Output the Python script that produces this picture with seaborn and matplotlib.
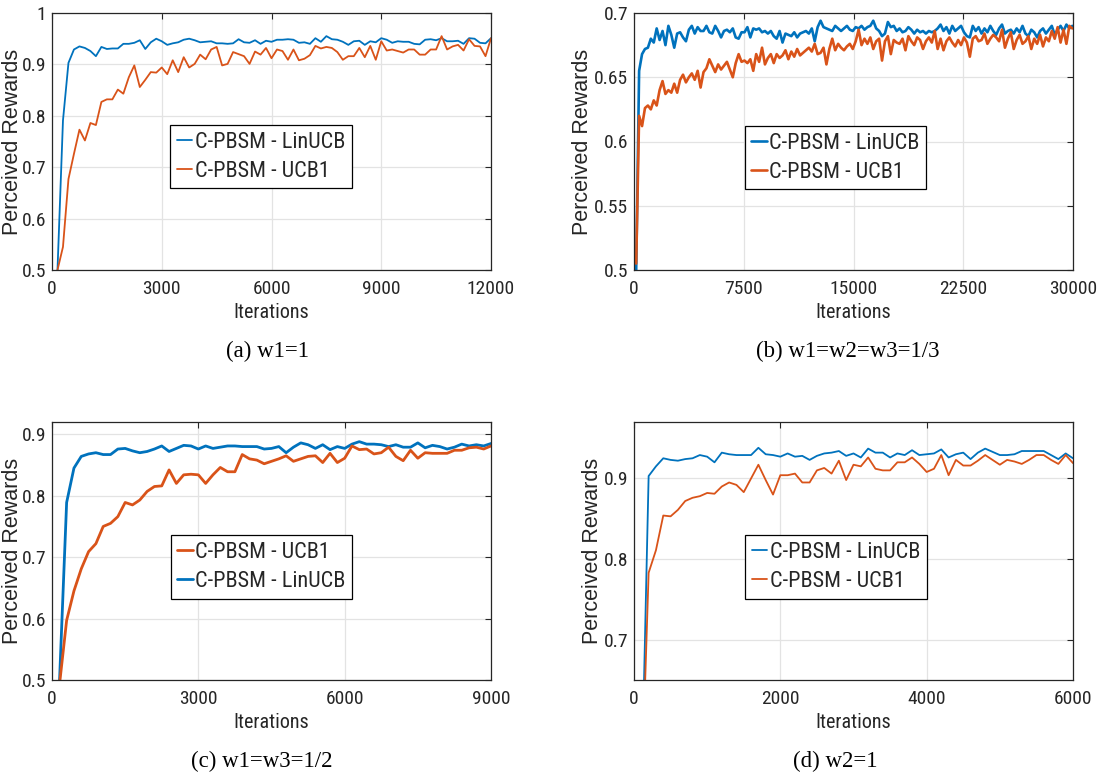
import numpy as np
import pandas as pd
import matplotlib
matplotlib.use("Agg")
import matplotlib.pyplot as plt
from matplotlib import font_manager
import seaborn as sns

# ---- data ----
a_x = np.arange(150, 12001, 150)
a_lin = [0.500, 0.791, 0.903, 0.929, 0.935, 0.932, 0.926, 0.916, 0.934, 0.930,
         0.931, 0.931, 0.940, 0.940, 0.942, 0.947, 0.930, 0.943, 0.950, 0.945,
         0.938, 0.941, 0.943, 0.948, 0.950, 0.947, 0.943, 0.944, 0.945, 0.941,
         0.941, 0.940, 0.941, 0.949, 0.943, 0.942, 0.947, 0.940, 0.946, 0.944,
         0.948, 0.948, 0.949, 0.948, 0.942, 0.943, 0.940, 0.951, 0.944, 0.955,
         0.949, 0.948, 0.944, 0.938, 0.945, 0.946, 0.938, 0.945, 0.943, 0.951,
         0.948, 0.942, 0.945, 0.944, 0.944, 0.940, 0.939, 0.948, 0.949, 0.947,
         0.951, 0.945, 0.945, 0.946, 0.940, 0.951, 0.950, 0.942, 0.941, 0.951]
a_ucb = [0.500, 0.545, 0.677, 0.726, 0.773, 0.752, 0.786, 0.782, 0.827, 0.832,
         0.832, 0.851, 0.843, 0.875, 0.898, 0.856, 0.870, 0.885, 0.884, 0.894,
         0.881, 0.908, 0.885, 0.914, 0.894, 0.901, 0.919, 0.910, 0.929, 0.934,
         0.898, 0.901, 0.924, 0.920, 0.916, 0.901, 0.925, 0.919, 0.932, 0.912,
         0.929, 0.926, 0.909, 0.929, 0.908, 0.911, 0.918, 0.936, 0.931, 0.934,
         0.932, 0.924, 0.909, 0.916, 0.916, 0.932, 0.914, 0.936, 0.909, 0.945,
         0.927, 0.929, 0.926, 0.923, 0.929, 0.929, 0.919, 0.919, 0.929, 0.929,
         0.955, 0.929, 0.935, 0.938, 0.927, 0.949, 0.936, 0.935, 0.916, 0.951]

b_x = np.arange(150, 30000, 200)
b_lin = [0.500, 0.655, 0.668, 0.672, 0.673, 0.680, 0.677, 0.688, 0.679, 0.686,
         0.675, 0.690, 0.683, 0.673, 0.684, 0.685, 0.681, 0.678, 0.687, 0.690,
         0.684, 0.689, 0.686, 0.686, 0.690, 0.685, 0.684, 0.690, 0.686, 0.681,
         0.686, 0.687, 0.685, 0.688, 0.681, 0.680, 0.685, 0.685, 0.689, 0.681,
         0.688, 0.687, 0.688, 0.685, 0.686, 0.684, 0.686, 0.682, 0.680, 0.686,
         0.677, 0.684, 0.683, 0.682, 0.685, 0.681, 0.684, 0.685, 0.686, 0.684,
         0.688, 0.678, 0.689, 0.694, 0.689, 0.688, 0.687, 0.686, 0.690, 0.688,
         0.686, 0.688, 0.690, 0.687, 0.686, 0.689, 0.688, 0.690, 0.687, 0.689,
         0.690, 0.694, 0.688, 0.686, 0.682, 0.684, 0.693, 0.689, 0.690, 0.686,
         0.688, 0.685, 0.686, 0.689, 0.687, 0.684, 0.687, 0.685, 0.686, 0.684,
         0.686, 0.685, 0.686, 0.688, 0.691, 0.686, 0.689, 0.684, 0.690, 0.686,
         0.688, 0.690, 0.685, 0.682, 0.681, 0.690, 0.686, 0.689, 0.684, 0.688,
         0.685, 0.690, 0.686, 0.683, 0.688, 0.691, 0.684, 0.686, 0.687, 0.684,
         0.688, 0.685, 0.690, 0.684, 0.682, 0.687, 0.685, 0.681, 0.686, 0.688,
         0.684, 0.687, 0.690, 0.683, 0.687, 0.690, 0.686, 0.691, 0.688, 0.690]
b_ucb = [0.505, 0.620, 0.612, 0.626, 0.628, 0.625, 0.632, 0.628, 0.640, 0.647,
         0.637, 0.640, 0.638, 0.645, 0.638, 0.648, 0.652, 0.646, 0.650, 0.653,
         0.648, 0.655, 0.642, 0.654, 0.657, 0.664, 0.659, 0.654, 0.660, 0.656,
         0.659, 0.662, 0.656, 0.650, 0.661, 0.668, 0.662, 0.663, 0.661, 0.664,
         0.655, 0.668, 0.662, 0.673, 0.660, 0.665, 0.668, 0.661, 0.668, 0.665,
         0.667, 0.671, 0.664, 0.670, 0.666, 0.672, 0.667, 0.669, 0.671, 0.673,
         0.670, 0.676, 0.668, 0.669, 0.673, 0.660, 0.672, 0.680, 0.671, 0.676,
         0.673, 0.671, 0.674, 0.676, 0.672, 0.678, 0.687, 0.675, 0.680, 0.676,
         0.681, 0.672, 0.678, 0.680, 0.663, 0.678, 0.682, 0.668, 0.679, 0.677,
         0.676, 0.680, 0.671, 0.682, 0.678, 0.675, 0.681, 0.679, 0.672, 0.678,
         0.681, 0.677, 0.686, 0.672, 0.680, 0.671, 0.678, 0.681, 0.677, 0.674,
         0.679, 0.675, 0.681, 0.677, 0.666, 0.680, 0.682, 0.678, 0.679, 0.684,
         0.676, 0.680, 0.683, 0.681, 0.678, 0.687, 0.673, 0.680, 0.685, 0.672,
         0.679, 0.683, 0.676, 0.678, 0.682, 0.672, 0.680, 0.676, 0.683, 0.674,
         0.681, 0.678, 0.686, 0.680, 0.689, 0.677, 0.687, 0.676, 0.690, 0.688]

c_x = np.arange(150, 9001, 150)
c_lin = [0.490, 0.789, 0.845, 0.864, 0.868, 0.870, 0.867, 0.867, 0.876, 0.877,
         0.873, 0.870, 0.872, 0.876, 0.881, 0.872, 0.877, 0.882, 0.881, 0.876,
         0.881, 0.877, 0.879, 0.881, 0.881, 0.880, 0.880, 0.880, 0.876, 0.877,
         0.880, 0.870, 0.879, 0.886, 0.883, 0.877, 0.883, 0.875, 0.880, 0.877,
         0.884, 0.888, 0.884, 0.884, 0.883, 0.880, 0.883, 0.879, 0.879, 0.886,
         0.878, 0.882, 0.880, 0.876, 0.879, 0.884, 0.881, 0.883, 0.881, 0.885]
c_ucb = [0.490, 0.597, 0.645, 0.681, 0.709, 0.722, 0.750, 0.755, 0.766, 0.789,
         0.785, 0.793, 0.807, 0.815, 0.816, 0.842, 0.820, 0.834, 0.835, 0.834,
         0.820, 0.834, 0.846, 0.839, 0.839, 0.867, 0.860, 0.858, 0.852, 0.856,
         0.860, 0.865, 0.856, 0.860, 0.864, 0.865, 0.854, 0.869, 0.854, 0.861,
         0.881, 0.875, 0.876, 0.868, 0.870, 0.879, 0.864, 0.857, 0.874, 0.861,
         0.870, 0.869, 0.869, 0.869, 0.874, 0.874, 0.878, 0.879, 0.876, 0.881]

d_x = np.arange(100, 6001, 100)
d_lin = [0.500, 0.903, 0.915, 0.925, 0.923, 0.922, 0.924, 0.925, 0.929, 0.927,
         0.920, 0.932, 0.930, 0.929, 0.929, 0.929, 0.938, 0.930, 0.929, 0.927,
         0.931, 0.927, 0.928, 0.923, 0.928, 0.931, 0.932, 0.934, 0.928, 0.931,
         0.926, 0.937, 0.932, 0.932, 0.926, 0.931, 0.929, 0.935, 0.929, 0.930,
         0.931, 0.936, 0.926, 0.930, 0.932, 0.924, 0.932, 0.937, 0.933, 0.929,
         0.929, 0.930, 0.934, 0.934, 0.934, 0.934, 0.929, 0.924, 0.931, 0.925]
d_ucb = [0.500, 0.783, 0.811, 0.854, 0.853, 0.861, 0.872, 0.876, 0.878, 0.882,
         0.881, 0.890, 0.895, 0.892, 0.883, 0.900, 0.917, 0.898, 0.880, 0.904,
         0.904, 0.906, 0.895, 0.895, 0.910, 0.913, 0.906, 0.922, 0.898, 0.917,
         0.915, 0.926, 0.912, 0.910, 0.910, 0.920, 0.920, 0.926, 0.918, 0.908,
         0.912, 0.929, 0.904, 0.923, 0.916, 0.916, 0.922, 0.929, 0.923, 0.917,
         0.923, 0.921, 0.918, 0.923, 0.929, 0.929, 0.923, 0.918, 0.929, 0.919]

lin_label = "C-PBSM - LinUCB"
ucb_label = "C-PBSM - UCB1"
captions = ["(a) w1=1", "(b) w1=w2=w3=1/3", "(c) w1=w3=1/2", "(d) w2=1"]

BLUE = "#0072BD"
ORANGE = "#D95319"
DARK = "#262626"

# narrow sans if one is installed, else plain Liberation Sans a bit smaller
installed = {f.name for f in font_manager.fontManager.ttflist}
narrow = None
for name in ["Liberation Sans Narrow", "Arial Narrow", "Roboto Condensed", "Open Sans Condensed"]:
    if name in installed:
        narrow = name
        break
if narrow:
    SANS, TICK_FS, LEG_FS, XLAB_FS = narrow, 14, 16, 14.5
else:
    SANS, TICK_FS, LEG_FS, XLAB_FS = "Liberation Sans", 12.5, 14, 13.5

sns.set_style("whitegrid")
plt.rcParams["font.family"] = [SANS, "DejaVu Sans"]

fig = plt.figure(figsize=(10.97, 7.74), dpi=100)
W, H = 1097, 774


def make_ax(left, top, right, bottom):
    return fig.add_axes([left / W, 1 - bottom / H, (right - left) / W, (bottom - top) / H])


def style(ax, xlim, ylim, xticks, yticks, ylabels, ylab_x):
    ax.set_xlim(*xlim)
    ax.set_ylim(*ylim)
    ax.set_xticks(xticks)
    ax.set_xticklabels([str(t) for t in xticks])
    ax.set_yticks(yticks)
    ax.set_yticklabels(ylabels)
    ax.tick_params(direction="in", top=True, right=True, length=4, width=0.8,
                   color=DARK, labelcolor=DARK, labelsize=TICK_FS)
    ax.tick_params(axis="x", pad=7)
    ax.tick_params(axis="y", pad=4)
    ax.grid(True, color="#e3e3e3", lw=0.9)
    for s in ax.spines.values():
        s.set_color(DARK)
        s.set_linewidth(0.9)
    ax.set_xlabel("Iterations", fontsize=XLAB_FS, color=DARK, labelpad=4)
    ax.set_ylabel("Perceived Rewards", fontsize=15.5, color=DARK,
                  family=["Liberation Sans", "DejaVu Sans"])
    ax.yaxis.set_label_coords(ylab_x, 0.5)


def add_legend(ax, cx, cy, order):
    handles, labels = ax.get_legend_handles_labels()
    idx = [labels.index(o) for o in order]
    leg = ax.legend([handles[i] for i in idx], [labels[i] for i in idx],
                    loc="center", bbox_to_anchor=(cx, cy), fontsize=LEG_FS,
                    frameon=True, fancybox=False, framealpha=1, edgecolor="black",
                    handlelength=0.7, handletextpad=0.1, borderpad=0.3,
                    labelspacing=0.35, borderaxespad=0)
    leg.get_frame().set_linewidth(0.9)


panels = [
    (a_x, a_lin, a_ucb, (52, 13, 491, 270), 1.3),
    (b_x, b_lin, b_ucb, (634, 13, 1073, 270), 1.9),
    (c_x, c_lin, c_ucb, (52, 422, 491, 680), 2.0),
    (d_x, d_lin, d_ucb, (634, 422, 1073, 680), 1.3),
]

axes = []
for x, lin, ucb, box, lw in panels:
    ax = make_ax(*box)
    df = pd.DataFrame({"Iterations": x, "lin": lin, "ucb": ucb})
    sns.lineplot(data=df, x="Iterations", y="lin", ax=ax, color=BLUE, lw=lw, label=lin_label)
    sns.lineplot(data=df, x="Iterations", y="ucb", ax=ax, color=ORANGE, lw=lw, label=ucb_label)
    axes.append(ax)

style(axes[0], (0, 12000), (0.5, 1.0), [0, 3000, 6000, 9000, 12000],
      [0.5, 0.6, 0.7, 0.8, 0.9, 1.0], ["0.5", "0.6", "0.7", "0.8", "0.9", "1"], -0.066)
style(axes[1], (0, 30000), (0.5, 0.7), [0, 7500, 15000, 22500, 30000],
      [0.5, 0.55, 0.6, 0.65, 0.7], ["0.5", "0.55", "0.6", "0.65", "0.7"], -0.093)
style(axes[2], (0, 9000), (0.5, 0.92), [0, 3000, 6000, 9000],
      [0.5, 0.6, 0.7, 0.8, 0.9], ["0.5", "0.6", "0.7", "0.8", "0.9"], -0.066)
style(axes[3], (0, 6000), (0.65, 0.97), [0, 2000, 4000, 6000],
      [0.7, 0.8, 0.9], ["0.7", "0.8", "0.9"], -0.071)

add_legend(axes[0], 0.476, 0.44, [lin_label, ucb_label])
add_legend(axes[1], 0.459, 0.437, [lin_label, ucb_label])
add_legend(axes[2], 0.477, 0.438, [ucb_label, lin_label])
add_legend(axes[3], 0.46, 0.438, [lin_label, ucb_label])

cap_pos = [(268, 351), (848, 351), (262, 761), (835, 761)]
for (cx, cy), txt in zip(cap_pos, captions):
    fig.text(cx / W, 1 - cy / H, txt, ha="center", va="center", fontsize=16.5,
             family=["Liberation Serif", "DejaVu Serif"], color="black")

fig.savefig("out.png", dpi=100)
